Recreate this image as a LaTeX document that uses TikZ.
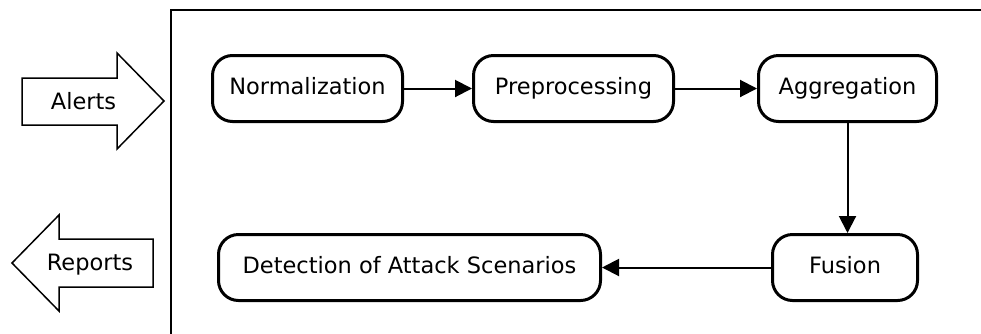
\documentclass[tikz,border=0pt]{standalone}
\usepackage{fontspec}
\setmainfont{DejaVu Sans}
\usetikzlibrary{arrows.meta}
\begin{document}
\begin{tikzpicture}[x=1pt,y=-1pt,
  txt/.style={font=\fontsize{22.5}{26}\selectfont, inner sep=0pt, text height=17pt, text depth=5.2pt},
  box/.style={txt, draw, line width=3pt, rounded corners=20pt},
  conn/.style={line width=2pt, -{Triangle[length=17pt,width=17pt]}},
  blockarrow/.style={draw, line width=1.5pt, line join=miter},
  frame/.style={line width=1.3pt}]
\useasboundingbox (0,0) rectangle (981,333);
\draw[frame] (171,340) -- (171,10) -- (990,10);
% block arrows
\draw[blockarrow] (22,78) -- (117,78) -- (117,53) -- (164,101) -- (117,149) -- (117,125) -- (22,125) -- cycle;
\node[txt] (alerts) at (83.5,103.5) {Alerts};
\draw[blockarrow] (153,239) -- (59,239) -- (59,215) -- (12,263) -- (59,311) -- (59,287) -- (153,287) -- cycle;
\node[txt] (reports) at (90,264.8) {Reports};
% boxes
\node[box, minimum width=190pt, minimum height=66pt] (norm) at (307.5,88.5) {Normalization};
\node[box, minimum width=200pt, minimum height=66pt] (prep) at (573.5,88.5) {Preprocessing};
\node[box, minimum width=178pt, minimum height=66pt] (agg) at (847.5,88.5) {Aggregation};
\node[box, minimum width=145pt, minimum height=66pt] (fus) at (845,267.5) {Fusion};
\node[box, minimum width=382pt, minimum height=66pt] (det) at (409.5,267.5) {Detection of Attack Scenarios};
% connectors
\draw[conn] (norm.east) -- (prep.west);
\draw[conn] (prep.east) -- (agg.west);
\draw[conn] (agg.south) -- (agg.south |- fus.north);
\draw[conn] (fus.west) -- (det.east);
\end{tikzpicture}
\end{document}
